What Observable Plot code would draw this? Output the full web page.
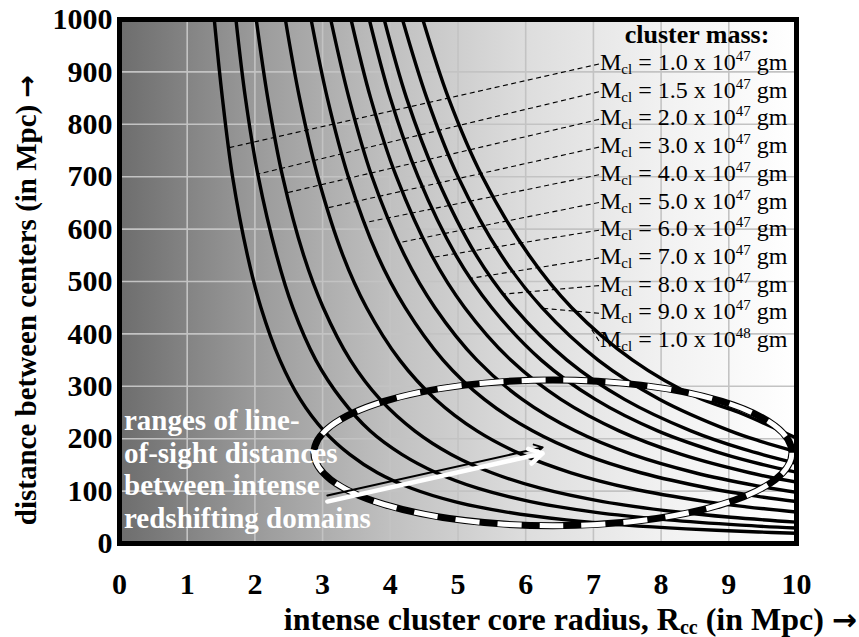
<!DOCTYPE html>
<html><head><meta charset="utf-8">
<script src="https://cdn.jsdelivr.net/npm/d3@7"></script>
<script src="https://cdn.jsdelivr.net/npm/@observablehq/plot@0.6"></script>
<style>body{margin:0;background:#fff;}</style>
</head><body><div id="chart"></div>
<script>
// ---- data ----
const massMantissa = ["1.0","1.5","2.0","3.0","4.0","5.0","6.0","7.0","8.0","9.0","1.0"];
const massExponent = ["47","47","47","47","47","47","47","47","47","47","48"];
// each curve: [core radius R_cc (Mpc), distance between centers (Mpc)]
const curveM10 = [[1.40,1000],[1.52,850],[1.67,700],[1.89,550],[2.09,450],[2.37,350],[2.67,275],[3.02,215],[3.40,170],[3.81,135],[4.32,105],[4.95,80],[5.72,60],[6.60,45],[7.48,35],[8.37,28],[9.44,22],[10,19.6]];
const curveM15 = [[1.72,1000],[1.86,850],[2.05,700],[2.32,550],[2.56,450],[2.90,350],[3.28,275],[3.70,215],[4.17,170],[4.68,135],[5.30,105],[6.07,80],[7.01,60],[8.10,45],[9.18,35],[10,29.5]];
const curveM20 = [[2.02,1000],[2.19,850],[2.41,700],[2.72,550],[3.01,450],[3.41,350],[3.85,275],[4.36,215],[4.90,170],[5.50,135],[6.23,105],[7.14,80],[8.25,60],[9.03,50],[10,40.8]];
const curveM30 = [[2.45,1000],[2.66,850],[2.93,700],[3.30,550],[3.65,450],[4.14,350],[4.67,275],[5.28,215],[5.94,170],[6.67,135],[7.56,105],[8.66,80],[9.26,70],[10,60]];
const curveM40 = [[2.83,1000],[3.07,850],[3.38,700],[3.81,550],[4.22,450],[4.78,350],[5.39,275],[6.10,215],[6.86,170],[7.70,135],[8.73,105],[9.43,90],[10,80]];
const curveM50 = [[3.12,1000],[3.39,850],[3.73,700],[4.21,550],[4.66,450],[5.28,350],[5.95,275],[6.73,215],[7.57,170],[8.50,135],[9.42,110],[10,97.5]];
const curveM60 = [[3.42,1000],[3.71,850],[4.09,700],[4.61,550],[5.10,450],[5.78,350],[6.52,275],[7.38,215],[8.30,170],[9.31,135],[10,117]];
const curveM70 = [[3.69,1000],[4.00,850],[4.41,700],[4.97,550],[5.50,450],[6.23,350],[7.03,275],[7.95,215],[8.94,170],[9.52,150],[10,136]];
const curveM80 = [[3.91,1000],[4.24,850],[4.68,700],[5.27,550],[5.83,450],[6.61,350],[7.46,275],[8.44,215],[9.22,180],[10,153]];
const curveM90 = [[4.18,1000],[4.54,850],[5.00,700],[5.64,550],[6.24,450],[7.07,350],[7.98,275],[9.02,215],[9.47,195],[10,175]];
const curveM100 = [[4.48,1000],[4.86,850],[5.36,700],[6.05,550],[6.68,450],[7.58,350],[8.55,278],[9.15,250],[10,201]];
const curves = [curveM10,curveM15,curveM20,curveM30,curveM40,curveM50,curveM60,curveM70,curveM80,curveM90,curveM100];
// where each legend leader line meets its curve
const leaderEnds = [[1.61,754],[2.05,704],[2.47,668],[3.06,639],[3.62,611],[4.13,573],[4.63,545],[5.19,505],[5.68,475],[6.25,448],[6.93,418]];
const xTicks = [0,1,2,3,4,5,6,7,8,9,10];
const yTicks = [0,100,200,300,400,500,600,700,800,900,1000];
const noteLines = ["ranges of line-","of-sight distances","between intense","redshifting domains"];
// annotation ellipse (data units) and arrow
const ellipseSpec = {cx: 6.41, cy: 172, rx: 3.53, ry: 139};
const arrowSpec = [{x1: 3.07, y1: 80, x2: 6.25, y2: 172}];

const rows = curves.flatMap((pts, i) => pts.map(([r, d]) => ({mass: i, r, d})));
const SERIF = "'Liberation Serif','Times New Roman',serif";
const ARROW_FONT = "'DejaVu Sans',sans-serif";

function background(index, scales) {
  const {x, y} = scales;
  const g = d3.create("svg:g");
  const grad = g.append("defs").append("linearGradient").attr("id", "bgGrad")
    .attr("x1", 0).attr("x2", 1).attr("y1", 0).attr("y2", 0);
  [[0,"#6d6d6d"],[0.2,"#9a9a9a"],[0.4,"#c0c0c0"],[0.6,"#dddddd"],[0.8,"#f1f1f1"],[1,"#ffffff"]]
    .forEach(([o,c]) => grad.append("stop").attr("offset", o).attr("stop-color", c));
  g.append("rect").attr("x", x(0)).attr("y", y(1000))
    .attr("width", x(10) - x(0)).attr("height", y(0) - y(1000)).attr("fill", "url(#bgGrad)");
  return g.node();
}

function ellipseMark(index, scales) {
  const {x, y} = scales;
  const g = d3.create("svg:g");
  const cx = x(ellipseSpec.cx), cy = y(ellipseSpec.cy);
  const rx = x(ellipseSpec.cx + ellipseSpec.rx) - cx, ry = y(ellipseSpec.cy - ellipseSpec.ry) - cy;
  g.append("ellipse").attr("cx", cx).attr("cy", cy).attr("rx", rx).attr("ry", ry)
    .attr("fill", "none").attr("stroke", "black").attr("stroke-width", 7);
  g.append("ellipse").attr("cx", cx).attr("cy", cy).attr("rx", rx).attr("ry", ry)
    .attr("fill", "none").attr("stroke", "white").attr("stroke-width", 5)
    .attr("stroke-dasharray", "24 18");
  return g.node();
}

function legendMark(index, scales) {
  const {x, y} = scales;
  const g = d3.create("svg:g").attr("font-family", SERIF).attr("font-weight", "normal").attr("text-anchor", "start");
  const left = 600, base0 = 70, step = 27.7;
  leaderEnds.forEach(([r, d], i) => {
    g.append("line").attr("x1", left - 1).attr("y1", base0 + i * step - 6)
      .attr("x2", x(r)).attr("y2", y(d))
      .attr("stroke", "black").attr("stroke-width", 1.1).attr("stroke-dasharray", "5 3.5");
  });
  g.append("text").attr("x", 697).attr("y", 43).attr("text-anchor", "middle")
    .attr("font-size", 26).attr("font-weight", "bold").text("cluster mass:");
  massMantissa.forEach((m, i) => {
    const t = g.append("text").attr("x", left).attr("y", base0 + i * step).attr("font-size", 24);
    t.append("tspan").text("M");
    t.append("tspan").attr("font-size", 15).attr("dy", 4).text("cl");
    t.append("tspan").attr("dy", -4).text(` = ${m} x 10`);
    t.append("tspan").attr("font-size", 15).attr("dy", -9).text(massExponent[i]);
    t.append("tspan").attr("dy", 9).text(" gm");
  });
  return g.node();
}

function notesMark(index, scales) {
  const {x} = scales;
  const g = d3.create("svg:g").attr("font-family", SERIF).attr("font-weight", "bold")
    .attr("font-size", 29).attr("fill", "white").attr("text-anchor", "start");
  noteLines.forEach((s, i) => {
    g.append("text").attr("x", x(0) + 5).attr("y", 430 + i * 32.7).text(s);
  });
  return g.node();
}

function titlesMark() {
  const g = d3.create("svg:g").attr("font-family", SERIF).attr("font-weight", "bold").attr("fill", "black");
  const tx = g.append("text").attr("x", 857).attr("y", 630).attr("text-anchor", "end").attr("font-size", 32);
  tx.append("tspan").text("intense cluster core radius, R");
  tx.append("tspan").attr("font-size", 20).attr("dy", 4).text("cc");
  tx.append("tspan").attr("dy", -4).text(" (in Mpc) ");
  tx.append("tspan").attr("font-family", ARROW_FONT).attr("font-size", 30).text("\u2192");
  const ty = g.append("text").attr("transform", "translate(36,300) rotate(-90)").attr("text-anchor", "middle")
    .attr("font-size", 29);
  ty.append("tspan").text("distance between centers (in Mpc) ");
  ty.append("tspan").attr("font-family", ARROW_FONT).attr("font-size", 27).text("\u2192");
  return g.node();
}

const chart = Plot.plot({
  width: 859, height: 637,
  marginTop: 19, marginLeft: 119, marginRight: 63, marginBottom: 94,
  style: {fontFamily: SERIF, fontSize: "30px", fontWeight: "bold", color: "black", background: "white", overflow: "visible"},
  x: {domain: [0, 10], ticks: xTicks, tickSize: 0, tickPadding: 29, tickFormat: "d", label: null},
  y: {domain: [0, 1000], ticks: yTicks, tickSize: 0, tickPadding: 7, tickFormat: "d", label: null},
  marks: [
    background,
    Plot.ruleX(xTicks, {stroke: "#c3c3c3", strokeWidth: 1.6}),
    Plot.ruleY(yTicks, {stroke: "#c3c3c3", strokeWidth: 1.6}),
    Plot.line(rows, {x: "r", y: "d", z: "mass", stroke: "black", strokeWidth: 3.4, curve: "catmull-rom", clip: true}),
    legendMark,
    ellipseMark,
    Plot.arrow(arrowSpec, {x1: "x1", y1: "y1", x2: "x2", y2: "y2", stroke: "black", strokeWidth: 2, headLength: 7, dy: -6, bend: 0}),
    Plot.arrow(arrowSpec, {x1: "x1", y1: "y1", x2: "x2", y2: "y2", stroke: "white", strokeWidth: 4.5, headLength: 5, bend: 0}),
    notesMark,
    titlesMark,
    Plot.frame({stroke: "black", strokeWidth: 5})
  ]
});
document.getElementById("chart").appendChild(chart);
</script>
</body></html>
